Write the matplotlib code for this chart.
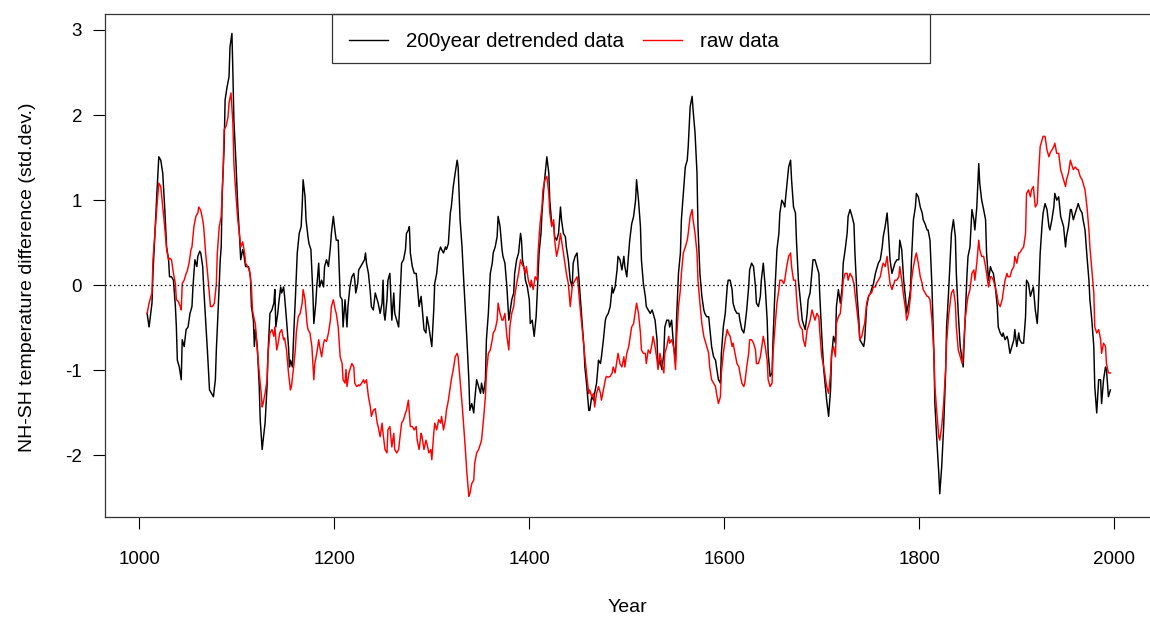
import matplotlib
matplotlib.use("Agg")
import matplotlib.pyplot as plt
from matplotlib.patches import Rectangle
from matplotlib.lines import Line2D

plt.rcParams['font.family'] = ['Liberation Sans', 'DejaVu Sans']
plt.rcParams['axes.unicode_minus'] = False

detrended_years = [
    1008,1010,1013,1014,1016,1018,1020,1022,1024,1026,1028,1030,1031,1033,1035,1037,1038,1039,1041,1043,
    1044,1046,1048,1050,1052,1054,1055,1057,1059,1060,1062,1063,1065,1066,1068,1070,1072,1074,1076,1078,
    1079,1081,1083,1084,1085,1087,1088,1090,1092,1093,1095,1096,1097,1099,1101,1103,1104,1106,1107,1109,
    1112,1114,1115,1117,1118,1119,1121,1123,1124,1126,
    1127,1129,1131,1132,1134,1136,1138,1139,1140,1142,1143,1145,1146,1148,1149,1151,1153,1154,1155,1157,
    1159,1160,1162,1164,1166,1167,1168,1170,1171,1173,1174,1176,1178,1179,1181,1182,1184,1185,1187,1189,
    1190,1192,1194,1196,1197,1199,1201,1202,1204,1206,1208,1209,1211,1213,1214,1216,1218,1220,1221,1222,
    1224,1225,1227,1229,1231,1232,1233,1235,1237,1238,1240,1242,1244,1245,1247,1249,1250,1251,
    1252,1254,1255,1257,1259,1261,1262,1264,1266,1267,1269,1271,1273,1274,1276,1277,1278,1280,1282,1284,
    1285,1287,1289,1290,1292,1294,1295,1297,1299,1300,1302,1303,1305,1307,1309,1310,1312,1314,1315,1317,
    1319,1320,1322,1324,1326,1327,1329,1331,1332,1334,1336,1338,1339,1341,1343,1344,1346,1348,1350,1351,
    1353,1355,1356,1358,1360,1362,1363,1365,1367,1368,1370,1372,1373,1375,
    1377,1379,1380,1382,1384,1385,1387,1389,1391,1392,1393,1395,1396,1398,1400,1401,1403,1405,1407,1408,
    1410,1412,1413,1415,1417,1418,1420,1421,1423,1425,1426,1428,1430,1432,1433,1435,1437,1438,1440,1442,
    1444,1445,1447,1449,1450,1452,1454,1456,1457,1459,1461,1462,1464,1466,1467,1469,1471,1473,1474,1476,
    1478,1479,1481,1483,1485,1486,1488,1490,1491,1493,1495,1497,
    1498,1500,1502,1503,1505,1507,1509,1510,1512,1514,1515,1517,1519,1520,1522,1524,1526,1527,1529,1531,
    1532,1534,1536,1538,1539,1541,1543,1544,1546,1548,1550,1551,1553,1555,1556,1558,1560,1562,1563,1565,
    1567,1568,1570,1572,1573,1575,1577,1579,1580,1582,1584,1585,1587,1589,1591,1592,1594,1596,1597,1599,
    1601,1603,1604,1606,1608,1609,1611,1613,1615,1616,1618,1620,
    1621,1623,1625,1626,1628,1630,1632,1633,1635,1637,1638,1640,1642,1644,1645,1647,1649,1650,1652,1654,
    1656,1657,1659,1661,1662,1664,1666,1668,1669,1671,1673,1674,1676,1678,1680,1681,1683,1685,1686,1688,
    1690,1691,1693,1695,1697,1698,1700,1702,1703,1705,1707,1709,1710,1712,1714,1715,1717,1719,1721,1722,
    1724,1726,1727,1729,1731,1733,1734,1736,1738,1739,1741,1743,1744,
    1746,1748,1750,1751,1753,1755,1756,1758,1760,1762,1763,1765,1767,1768,1770,1772,1774,1775,1777,1779,
    1780,1782,1784,1786,1787,1789,1791,1792,1794,1796,1797,1799,1801,1803,1804,1806,1808,1809,1811,1813,
    1815,1816,1818,1820,1821,1823,1825,1827,1828,1830,1832,1833,1835,1837,1838,1840,1842,1844,1845,1847,
    1849,1850,1852,1854,1856,1857,1859,1861,1862,1864,1866,
    1868,1869,1871,1873,1874,1876,1878,1880,1881,1883,1885,1886,1888,1890,1891,1893,1895,1897,1898,1900,
    1902,1903,1905,1907,1909,1910,1912,1914,1915,1917,1919,1921,1922,1924,1926,1927,1929,1931,1933,1934,
    1936,1938,1939,1941,1943,1945,1946,1948,1950,1951,1953,1955,1956,1958,1960,1962,1963,1965,1967,1968,
    1970,1972,1974,1975,1977,1979,1980,1982,1984,1986,1987,1989,1991,1992,1994,1996]

detrended_values = [
    -0.33,-0.49,-0.21,0.14,0.61,1.08,1.51,1.47,1.32,0.92,0.45,0.30,0.10,0.10,0.06,-0.25,-0.49,-0.88,-0.96,-1.11,
    -0.64,-0.72,-0.52,-0.49,-0.33,-0.25,-0.02,0.30,0.22,0.34,0.40,0.38,0.22,-0.02,-0.41,-0.80,-1.23,-1.27,-1.31,-1.11,
    -0.76,-0.25,0.30,0.45,1.08,1.63,2.18,2.33,2.45,2.80,2.96,2.49,1.94,1.47,0.92,0.53,0.30,0.42,0.38,0.22,
    0.22,0.10,-0.25,-0.41,-0.72,-0.52,-0.72,-1.19,-1.58,-1.93,
    -1.82,-1.62,-1.19,-0.80,-0.33,-0.29,-0.21,-0.05,-0.49,-0.33,-0.21,-0.02,-0.09,-0.02,-0.13,-0.41,-0.72,-0.96,-0.88,-0.96,
    -0.41,-0.17,0.38,0.61,0.69,0.92,1.24,1.04,0.77,0.57,0.49,0.42,-0.09,-0.45,-0.21,-0.02,0.26,-0.02,0.06,-0.02,
    0.22,0.30,0.22,0.45,0.61,0.81,0.61,0.53,0.53,-0.13,-0.17,-0.49,-0.17,-0.49,-0.25,-0.02,0.10,0.14,0.06,-0.09,
    0.02,0.18,0.22,0.26,0.30,0.38,0.26,0.14,-0.09,-0.25,-0.29,-0.09,-0.17,-0.21,-0.33,-0.21,0.06,-0.33,
    -0.41,-0.17,0.06,0.14,-0.41,-0.09,-0.33,-0.41,-0.49,-0.25,0.26,0.30,0.42,0.61,0.65,0.69,0.38,0.22,0.14,0.14,
    0.02,-0.25,-0.13,-0.25,-0.52,-0.56,-0.37,-0.49,-0.64,-0.72,-0.29,0.02,0.14,0.38,0.45,0.42,0.38,0.45,0.42,0.49,
    0.85,0.92,1.16,1.32,1.47,1.39,0.77,0.45,0.22,-0.21,-0.64,-1.11,-1.47,-1.39,-1.50,-1.35,-1.11,-1.19,-1.27,-1.15,
    -1.27,-1.11,-0.64,-0.33,0.14,0.26,0.38,0.45,0.57,0.81,0.69,0.42,0.34,0.26,
    -0.02,-0.41,-0.33,-0.17,-0.09,0.14,0.30,0.38,0.61,0.53,0.30,0.18,0.06,-0.02,-0.17,-0.45,-0.41,-0.60,-0.37,-0.13,
    0.38,0.61,0.85,1.16,1.39,1.51,1.32,1.00,0.72,0.72,0.57,0.53,0.61,0.92,0.77,0.61,0.57,0.45,0.30,0.06,
    -0.02,0.26,0.34,0.38,0.22,-0.09,-0.41,-0.72,-0.96,-1.19,-1.47,-1.47,-1.31,-1.35,-1.27,-1.15,-0.88,-0.92,-0.84,-0.64,
    -0.41,-0.37,-0.33,-0.25,-0.02,-0.09,-0.02,0.18,0.34,0.30,0.18,0.34,
    0.22,0.10,0.38,0.53,0.72,0.81,1.00,1.24,1.00,0.69,0.30,0.02,-0.13,-0.25,-0.29,-0.33,-0.29,-0.33,-0.41,-0.64,
    -0.96,-0.88,-0.99,-0.80,-0.49,-0.41,-0.41,-0.49,-0.41,-0.72,-0.88,-0.41,0.14,0.38,0.77,1.08,1.39,1.47,1.63,2.10,
    2.22,2.06,1.79,1.32,0.69,0.14,-0.13,-0.29,-0.33,-0.37,-0.37,-0.49,-0.72,-0.84,-0.88,-0.96,-1.11,-1.15,-0.80,-0.49,
    -0.33,-0.02,0.06,0.06,-0.05,-0.21,-0.29,-0.33,-0.33,-0.41,-0.52,-0.56,
    -0.49,-0.29,-0.02,0.18,0.26,0.22,-0.02,-0.21,-0.25,-0.13,0.06,0.26,-0.02,-0.41,-0.80,-1.07,-1.03,-0.64,-0.05,0.42,
    0.61,0.85,1.00,0.96,0.92,1.16,1.39,1.47,1.24,0.92,0.85,0.53,0.06,-0.17,-0.41,-0.45,-0.52,-0.33,-0.17,-0.09,
    0.18,0.30,0.30,0.22,0.14,-0.13,-0.60,-0.99,-1.11,-1.35,-1.54,-1.23,-0.84,-0.60,-0.68,-0.25,-0.05,-0.21,-0.02,0.26,
    0.42,0.61,0.81,0.89,0.81,0.72,0.38,-0.09,-0.41,-0.64,-0.68,-0.72,-0.64,
    -0.25,-0.13,-0.09,-0.05,0.02,0.14,0.18,0.26,0.30,0.45,0.57,0.69,0.85,0.69,0.30,0.14,0.22,0.26,0.30,0.30,
    0.53,0.42,0.06,-0.17,-0.33,-0.21,-0.05,0.30,0.77,0.92,1.08,1.04,0.92,0.85,0.77,0.72,0.65,0.65,0.53,-0.02,
    -0.80,-1.39,-1.82,-2.21,-2.45,-2.13,-1.66,-1.03,-0.49,-0.09,0.38,0.61,0.77,0.57,0.14,-0.33,-0.72,-0.88,-0.96,-0.41,
    0.14,0.34,0.45,0.89,0.77,0.65,0.92,1.43,1.20,1.00,0.89,
    0.77,0.38,0.06,0.22,0.18,0.14,-0.02,-0.25,-0.49,-0.56,-0.60,-0.56,-0.64,-0.60,-0.64,-0.80,-0.72,-0.64,-0.52,-0.72,
    -0.56,-0.64,-0.68,-0.68,-0.37,0.06,0.02,-0.13,-0.09,-0.02,-0.29,-0.45,-0.25,0.38,0.72,0.85,0.96,0.89,0.69,0.65,
    0.77,0.92,1.08,1.00,1.04,0.81,0.77,0.69,0.45,0.57,0.69,0.89,0.89,0.77,0.85,0.92,0.96,0.89,0.85,0.77,
    0.65,0.34,0.06,-0.17,-0.41,-0.72,-1.19,-1.50,-1.11,-1.11,-1.39,-1.11,-0.96,-0.99,-1.31,-1.23]

raw_years = [
    1008,1010,1013,1014,1016,1018,1020,1022,1024,1026,1028,1030,1031,1033,1035,1037,1038,1040,1042,1043,
    1044,1046,1048,1049,1051,1053,1054,1056,1058,1060,1061,1063,1065,1066,1068,1070,1072,1073,1075,1077,
    1079,1080,1082,1084,1086,1087,1089,1091,1092,1094,1096,1097,1099,1101,1103,1104,1106,1108,1109,1111,
    1113,1115,1116,1118,1119,1121,1123,1125,1126,
    1127,1129,1131,1132,1134,1136,1138,1139,1141,1143,1144,1146,1148,1149,1151,1153,1155,1156,1158,1160,
    1161,1163,1165,1167,1168,1170,1172,1173,1175,1177,1179,1180,1182,1184,1185,1187,1189,1190,1192,1194,
    1196,1197,1199,1201,1202,1204,1206,1208,1209,1211,1212,1213,1215,1216,1218,1220,1221,1223,1225,1226,
    1228,1230,1231,1233,1235,1237,1238,1240,1242,1244,1245,1247,1249,1250,1252,
    1254,1255,1257,1259,1261,1262,1264,1266,1267,1269,1271,1273,1274,1276,1277,1278,1280,1282,1284,1285,
    1287,1289,1290,1292,1294,1295,1297,1299,1300,1302,1303,1305,1307,1309,1310,1312,1314,1315,1317,1319,
    1320,1322,1324,1326,1327,1329,1331,1332,1334,1336,1338,1339,1341,1343,1344,1346,1348,1350,1351,1353,
    1355,1356,1358,1360,1362,1363,1365,1367,1368,1370,1372,1373,1375,
    1377,1379,1380,1382,1384,1385,1387,1389,1391,1392,1394,1396,1397,1399,1401,1402,1404,1406,1408,1409,
    1411,1413,1414,1416,1418,1420,1421,1423,1425,1426,1428,1430,1432,1433,1435,1437,1438,1440,1442,1444,
    1445,1447,1449,1450,1452,1454,1456,1457,1459,1461,1462,1464,1466,1467,1469,1471,1473,1474,1476,1478,
    1479,1481,1483,1485,1486,1488,1490,1491,1493,1495,1497,
    1498,1500,1502,1503,1505,1507,1509,1510,1512,1514,1515,1517,1519,1520,1522,1524,1526,1527,1529,1531,
    1532,1534,1536,1538,1539,1541,1543,1544,1546,1548,1550,1551,1553,1555,1556,1558,1560,1562,1563,1565,
    1567,1568,1570,1572,1573,1575,1577,1579,1580,1582,1584,1585,1587,1589,1591,1592,1594,1596,1597,1599,
    1601,1603,1604,1606,1608,1609,1611,1613,1615,1616,1618,1620,
    1621,1623,1625,1626,1628,1630,1632,1633,1635,1637,1638,1640,1642,1644,1645,1647,1649,1650,1652,1654,
    1656,1657,1659,1661,1662,1664,1666,1668,1669,1671,1673,1674,1676,1678,1680,1681,1683,1685,1686,1688,
    1690,1691,1693,1695,1697,1698,1700,1702,1703,1705,1707,1709,1710,1712,1714,1715,1717,1719,1721,1722,
    1724,1726,1727,1729,1731,1733,1734,1736,1738,1739,1741,1743,1744,
    1746,1748,1750,1751,1753,1755,1756,1758,1760,1762,1763,1765,1767,1768,1770,1772,1774,1775,1777,1779,
    1780,1782,1784,1786,1787,1789,1791,1792,1794,1796,1797,1799,1801,1803,1804,1806,1808,1809,1811,1813,
    1815,1816,1818,1820,1821,1823,1825,1827,1828,1830,1832,1833,1835,1837,1838,1840,1842,1844,1845,1847,
    1849,1850,1852,1854,1856,1857,1859,1861,1862,1864,1866,
    1868,1869,1871,1873,1874,1876,1878,1880,1881,1883,1885,1886,1888,1890,1891,1893,1895,1897,1898,1900,
    1902,1903,1905,1907,1909,1910,1912,1914,1915,1917,1919,1921,1922,1924,1926,1927,1929,1931,1933,1934,
    1936,1938,1939,1941,1943,1945,1946,1948,1950,1951,1953,1955,1956,1958,1960,1962,1963,1965,1967,1968,
    1970,1972,1974,1975,1977,1979,1980,1982,1984,1986,1987,1989,1991,1992,1994,1996]

raw_values = [
    -0.33,-0.21,-0.09,0.30,0.61,0.92,1.20,1.16,0.92,0.69,0.42,0.30,0.32,0.30,0.14,0.02,-0.17,-0.19,-0.25,-0.29,
    0.02,0.06,0.14,0.16,0.26,0.42,0.45,0.69,0.81,0.85,0.92,0.88,0.77,0.69,0.38,0.14,-0.13,-0.25,-0.25,-0.21,
    0.02,0.38,0.69,0.81,1.36,1.83,1.87,1.98,2.14,2.26,1.90,1.43,1.08,0.77,0.57,0.45,0.51,0.38,0.26,0.22,
    0.18,-0.02,-0.29,-0.41,-0.45,-0.76,-1.03,-1.27,-1.43,
    -1.39,-1.27,-1.11,-0.80,-0.56,-0.52,-0.60,-0.49,-0.76,-0.64,-0.56,-0.52,-0.64,-0.62,-0.76,-1.03,-1.23,-1.19,-0.99,-0.76,
    -0.56,-0.37,-0.33,-0.21,-0.05,-0.17,-0.45,-0.52,-0.56,-0.72,-1.11,-0.92,-0.80,-0.64,-0.72,-0.84,-0.68,-0.64,-0.66,-0.56,
    -0.41,-0.25,-0.17,-0.29,-0.33,-0.49,-0.84,-0.92,-1.11,-1.15,-0.99,-1.19,-1.03,-0.99,-0.92,-0.96,-1.15,-1.19,-1.17,-1.18,
    -1.15,-1.11,-1.15,-1.11,-1.31,-1.43,-1.54,-1.47,-1.45,-1.62,-1.66,-1.78,-1.62,-1.74,-1.93,
    -1.97,-1.70,-1.66,-1.90,-1.74,-1.93,-1.97,-1.93,-1.82,-1.62,-1.58,-1.50,-1.47,-1.35,-1.50,-1.66,-1.66,-1.70,-1.66,-1.82,
    -1.93,-1.74,-1.78,-1.93,-1.82,-1.86,-1.97,-1.93,-2.05,-1.74,-1.62,-1.70,-1.58,-1.62,-1.54,-1.70,-1.58,-1.47,-1.35,-1.19,
    -1.11,-0.99,-0.84,-0.80,-0.84,-1.11,-1.39,-1.54,-1.86,-2.21,-2.48,-2.45,-2.33,-2.29,-2.09,-1.97,-1.93,-1.86,-1.82,-1.58,
    -1.31,-1.03,-0.80,-0.76,-0.64,-0.56,-0.52,-0.41,-0.21,-0.33,-0.41,-0.41,-0.33,
    -0.60,-0.76,-0.49,-0.33,-0.25,-0.13,0.02,0.14,0.30,0.26,0.22,0.14,0.22,0.06,-0.02,0.06,-0.05,0.10,0.06,0.38,
    0.72,0.92,1.12,1.24,1.28,1.08,0.85,0.69,0.77,0.53,0.34,0.45,0.61,0.53,0.38,0.22,0.14,0.02,-0.25,-0.02,
    0.02,0.06,0.10,0.02,-0.25,-0.49,-0.72,-0.84,-1.07,-1.27,-1.23,-1.31,-1.27,-1.43,-1.27,-1.19,-1.27,-1.35,-1.23,-1.11,
    -1.07,-1.08,-1.07,-1.03,-0.96,-1.03,-0.88,-0.80,-0.92,-0.96,-0.84,
    -0.96,-0.80,-0.72,-0.64,-0.49,-0.45,-0.29,-0.21,-0.33,-0.56,-0.76,-0.80,-0.80,-0.92,-0.76,-0.80,-0.68,-0.60,-0.72,-0.88,
    -0.99,-0.80,-0.92,-1.03,-0.80,-0.72,-0.60,-0.68,-0.64,-0.72,-0.99,-0.64,-0.25,-0.05,0.14,0.38,0.45,0.53,0.61,0.81,
    0.89,0.77,0.61,0.38,0.06,-0.21,-0.45,-0.60,-0.64,-0.72,-0.80,-0.96,-1.11,-1.15,-1.19,-1.27,-1.39,-1.31,-1.03,-0.80,
    -0.64,-0.52,-0.56,-0.60,-0.72,-0.68,-0.80,-0.92,-0.96,-1.03,-1.15,-1.19,
    -1.15,-0.96,-0.80,-0.64,-0.64,-0.68,-0.76,-0.92,-0.92,-0.84,-0.76,-0.60,-0.72,-0.88,-1.11,-1.19,-1.15,-0.80,-0.49,-0.21,
    -0.05,0.06,0.06,0.02,0.06,0.22,0.34,0.38,0.22,0.06,0.06,-0.13,-0.41,-0.49,-0.52,-0.64,-0.72,-0.52,-0.49,-0.41,
    -0.29,-0.33,-0.41,-0.33,-0.37,-0.56,-0.84,-0.96,-1.03,-1.19,-1.27,-1.03,-0.80,-0.72,-0.84,-0.45,-0.37,-0.33,-0.09,0.06,
    0.14,0.14,0.06,0.14,0.10,0.02,-0.09,-0.29,-0.49,-0.64,-0.60,-0.49,-0.45,
    -0.21,-0.13,-0.09,-0.09,-0.02,-0.02,0.02,0.06,0.10,0.22,0.26,0.22,0.34,0.22,0.02,-0.05,0.02,0.06,0.06,0.10,
    0.22,0.06,-0.13,-0.29,-0.41,-0.33,-0.13,0.06,0.22,0.34,0.38,0.26,0.10,0.02,-0.05,-0.09,-0.13,-0.13,-0.17,-0.41,
    -0.80,-1.19,-1.50,-1.78,-1.82,-1.66,-1.39,-0.99,-0.68,-0.37,-0.17,-0.09,-0.05,-0.21,-0.49,-0.76,-0.84,-0.92,-0.80,-0.41,
    -0.21,-0.13,-0.05,0.14,0.18,0.06,0.26,0.53,0.42,0.34,0.34,
    0.22,0.14,-0.02,0.10,0.10,0.06,-0.02,-0.13,-0.21,-0.25,-0.17,-0.09,0.06,0.14,0.10,0.10,0.18,0.22,0.34,0.26,
    0.38,0.38,0.42,0.45,0.61,1.08,1.12,1.04,1.12,1.16,0.92,0.96,1.24,1.63,1.71,1.75,1.75,1.59,1.51,1.55,
    1.59,1.63,1.67,1.55,1.55,1.36,1.32,1.24,1.16,1.24,1.32,1.47,1.43,1.36,1.39,1.36,1.36,1.28,1.24,1.20,
    1.12,0.92,0.65,0.45,0.18,-0.09,-0.49,-0.56,-0.52,-0.64,-0.80,-0.68,-0.72,-0.92,-1.03,-1.03]

x_ticks = [1000, 1200, 1400, 1600, 1800, 2000]
y_ticks = [-2, -1, 0, 1, 2, 3]
series_labels = ["200year detrended data", "raw data"]

W, H = 1150, 619
fig = plt.figure(figsize=(W / 100, H / 100), dpi=100)
L, R, T, B = 105, 1152, 14, 517
ax = fig.add_axes([L / W, 1 - B / H, (R - L) / W, (B - T) / H])

ax.plot(detrended_years, detrended_values, color='black', lw=1.05)
ax.plot(raw_years, raw_values, color='red', lw=1.05)
ax.axhline(0, color='black', lw=0.9, ls=(0, (1.2, 2.2)))

ax.set_xlim(964.8, 2038.7)
ax.set_ylim(-2.723, 3.188)
ax.set_xticks(x_ticks)
ax.set_yticks(y_ticks)
ax.tick_params(axis='both', direction='out', length=8.5, width=0.8, labelsize=13.5, colors='black')
ax.tick_params(axis='x', pad=16)
ax.tick_params(axis='y', pad=8)
for s in ax.spines.values():
    s.set_linewidth(0.9)
    s.set_color('#333333')

ax.set_xlabel("Year", fontsize=14, va='center')
ax.xaxis.set_label_coords(0.4986, -0.179)
ax.set_ylabel("NH-SH temperature difference (std.dev.)", fontsize=14)
ax.yaxis.set_label_coords(-0.066, 0.477)

# legend box
box = Rectangle(((332 - L) / (R - L), (B - 63) / (B - T)), (930 - 332) / (R - L), (63 - T) / (B - T),
                transform=ax.transAxes, fill=False, edgecolor='#333333', lw=0.9, clip_on=False)
ax.add_patch(box)
handles = [Line2D([], [], color='black', lw=1.0), Line2D([], [], color='red', lw=1.0)]
ax.legend(handles, series_labels, loc='center left', ncol=2, frameon=False,
          bbox_to_anchor=((349 - L) / (R - L), (B - 41.5) / (B - T)), borderpad=0, borderaxespad=0,
          handlelength=1.9, handletextpad=0.87, columnspacing=0.92, fontsize=14.8)

fig.savefig("out.png", dpi=100)
